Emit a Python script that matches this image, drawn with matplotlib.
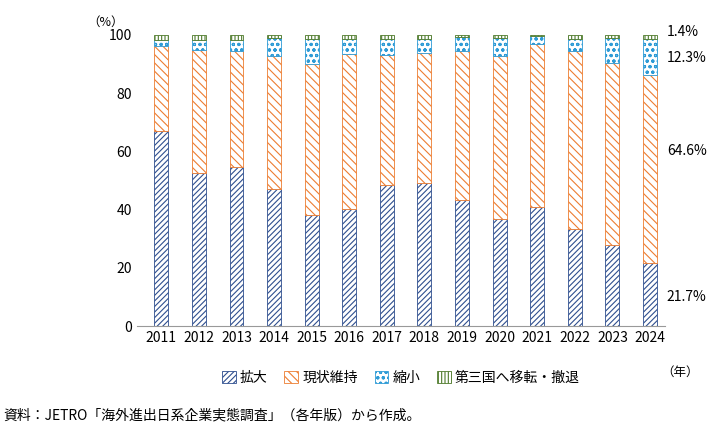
import numpy as np
import matplotlib.pyplot as plt
import matplotlib as mpl

mpl.rcParams["font.family"] = "Noto Sans CJK JP"
mpl.rcParams["hatch.linewidth"] = 0.8

YEARS = [str(y) for y in range(2011, 2025)]
EXPAND = [67.0, 52.6, 54.6, 47.1, 38.1, 40.2, 48.5, 49.1, 43.3, 36.8, 40.9, 33.3, 27.8, 21.7]
KEEP = [29.2, 42.2, 39.9, 45.7, 51.9, 53.3, 44.6, 44.7, 51.2, 56.0, 56.0, 61.2, 62.6, 64.6]
SHRINK = [2.1, 3.5, 3.8, 6.2, 8.6, 5.1, 5.5, 4.8, 4.8, 6.2, 2.8, 4.1, 8.6, 12.3]
EXIT = [1.7, 1.7, 1.7, 1.0, 1.4, 1.4, 1.4, 1.4, 0.7, 1.0, 0.3, 1.4, 1.0, 1.4]
NAMES = ["拡大", "現状維持", "縮小", "第三国へ移転・撤退"]

styles = [
    dict(color="white", edgecolor="#2F4F8F", hatch="//////"),
    dict(color="white", edgecolor="#ED7D31", hatch="\\\\\\\\"),
    dict(color="white", edgecolor="#2E9BD6", hatch="ooo"),
    dict(color="white", edgecolor="#4E7A2A", hatch="|||||"),
]

fig = plt.figure(figsize=(7.09, 4.32), dpi=100)
ax = fig.add_axes([0.193, 0.245, 0.745, 0.674])
x = np.arange(len(YEARS))
bottom = np.zeros(len(YEARS))
for vals, name, st in zip([EXPAND, KEEP, SHRINK, EXIT], NAMES, styles):
    ax.bar(x, vals, 0.37, bottom=bottom, label=name, linewidth=0.6, **st)
    bottom += np.array(vals)

ax.set_ylim(0, 100)
ax.set_xlim(-0.65, len(YEARS) - 0.6)
ax.set_yticks(range(0, 101, 20))
ax.set_xticks(x)
ax.set_xticklabels(YEARS)
ax.tick_params(length=0, labelsize=10)
for s in ["top", "right", "left"]:
    ax.spines[s].set_visible(False)
ax.spines["bottom"].set_color("#999999")
ax.text(-0.06, 1.03, "（%）", transform=ax.transAxes, fontsize=9, ha="center")
fig.text(0.985, 0.13, "（年）", fontsize=9, ha="right")

# last-year labels
last = [EXPAND[-1], KEEP[-1], SHRINK[-1], EXIT[-1]]
ys = [10, 60, 92, 101]
for v, yy in zip(last, ys):
    ax.text(len(YEARS) - 0.55, yy, f"{v:.1f}%", fontsize=10, va="center", ha="left", clip_on=False)

ax.legend(loc="upper center", bbox_to_anchor=(0.5, -0.11), ncol=4, frameon=False,
          fontsize=10, handlelength=1.0, handleheight=1.0, handletextpad=0.3, columnspacing=1.2)
fig.text(0.005, 0.03, "資料：JETRO「海外進出日系企業実態調査」（各年版）から作成。", fontsize=10)

fig.savefig("out.png", dpi=100)
